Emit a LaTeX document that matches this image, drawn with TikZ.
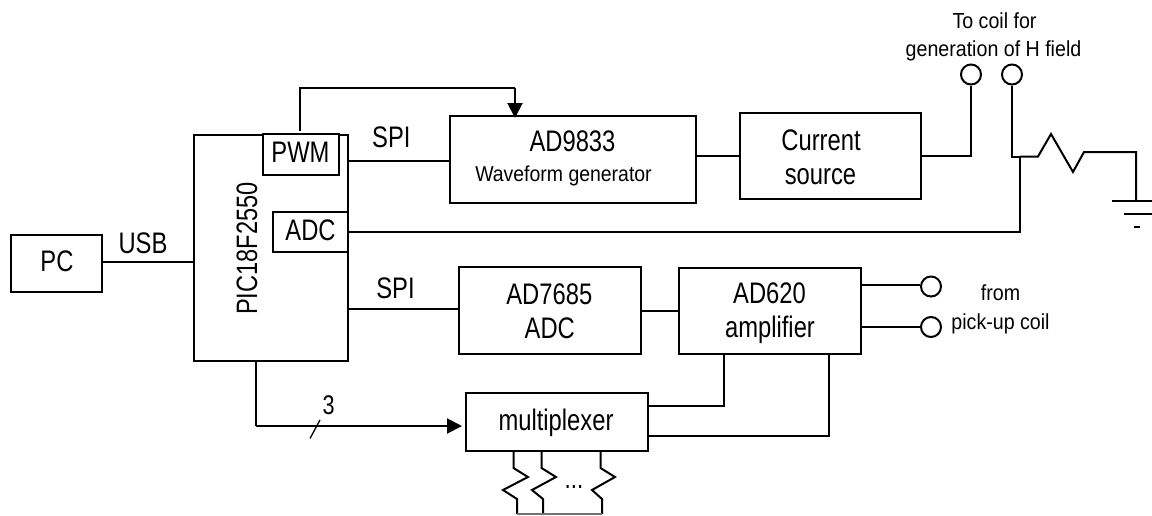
\documentclass[tikz,border=0pt]{standalone}
\usepackage{fontspec}
\setmainfont[FakeStretch=0.8]{Liberation Sans}
\newfontfamily\widefam[FakeStretch=0.9]{Liberation Sans}
\usetikzlibrary{arrows.meta,calc}
\newcommand{\fs}[2]{\fontsize{#1}{#2}\selectfont}
\tikzset{
  box/.style={draw=black,line width=2pt,fill=white,inner sep=0pt},
  wire/.style={draw=black,line width=2pt,line join=miter},
  arrowed/.style={wire,-{Triangle[length=15pt,width=15pt]}},
  term/.style={circle,draw=black,line width=2pt,fill=white,minimum size=20pt,inner sep=0pt},
  lab/.style={inner sep=0pt,anchor=base,font=\fs{29.7}{34}},
  note/.style={inner sep=0pt,anchor=base,font=\widefam\fs{21.8}{28}},
}
\begin{document}
\begin{tikzpicture}[x=1pt,y=-1pt]
\useasboundingbox (0,0) rectangle (1152,515);
% boxes
\node[box,minimum width=91pt,minimum height=57pt] (pc) at (56.5,263.5) {};
\node[box,minimum width=154pt,minimum height=226pt] (pic) at (271,248) {};
\node[box,minimum width=76pt,minimum height=41pt] (pwm) at (300.7,154.5) {};
\node[box,minimum width=75.5pt,minimum height=40.5pt] (adc) at (310.3,231.8) {};
\node[box,minimum width=246pt,minimum height=86.7pt] (wave) at (573,159.3) {};
\node[box,minimum width=181pt,minimum height=86pt] (cur) at (830,156) {};
\node[box,minimum width=181.7pt,minimum height=87pt] (dac) at (549.8,310.5) {};
\node[box,minimum width=181.7pt,minimum height=86.3pt] (amp) at (769.8,310.8) {};
\node[box,minimum width=182pt,minimum height=58pt] (mux) at (557,422) {};
% box texts
\node[lab] (pctext) at (57,271.7) {PC};
\node[lab] (pwmtext) at (300.5,162) {PWM};
\node[lab] (adctext) at (310.5,240) {ADC};
\node[lab,rotate=90,font=\fs{29.5}{33},anchor=base] (pictext) at (257,248.5) {PIC18F2550};
\node[lab] (wavea) at (572.5,151.7) {AD9833};
\node[note,font=\widefam\fs{21.6}{26}] (waveb) at (563.5,181) {Waveform generator};
\node[lab] (cura) at (821,150) {Current};
\node[lab] (curb) at (820.5,184.3) {source};
\node[lab] (daca) at (549.3,304) {AD7685};
\node[lab] (dacb) at (549.8,338) {ADC};
\node[lab] (ampa) at (769.5,303) {AD620};
\node[lab] (ampb) at (770,337.7) {amplifier};
\node[lab] (muxtext) at (556,430) {multiplexer};
% labels
\node[lab] (usb) at (143,253) {USB};
\node[lab] (spia) at (391.3,147.3) {SPI};
\node[lab] (spib) at (395.5,298) {SPI};
\node[lab,font=\fs{27}{30}] (three) at (328.7,414) {3};
\node[note] (toa) at (994.5,28.3) {To coil for};
\node[note] (tob) at (993.5,56.7) {generation of H field};
\node[note] (froma) at (1000.5,300.7) {from};
\node[note] (fromb) at (1000.5,329) {pick-up coil};
\node[inner sep=0pt,anchor=base,font=\fs{28}{30}] (dots) at (574,488) {...};
% terminals
\node[term] (t1) at (971,74.5) {};
\node[term] (t2) at (1012,74.5) {};
\node[term] (t3) at (931,286.5) {};
\node[term] (t4) at (931,327) {};
% named points
\coordinate (junc) at (1020,156.5);
\coordinate (gnd) at (1136,201);
\coordinate (fb) at (299.7,88.3);
\coordinate (fbend) at (515,118);
\coordinate (picb) at (256,361);
\coordinate (busy) at (256,426);
% connectors
\draw[wire] ($(pc.east)+(0,-1.8)$) -- ($(pc.east -| pic.west)+(0,-1.8)$);
\draw[wire] ($(pic.east |- wave.west)+(0,1.4)$) -- ($(wave.west)+(0,1.4)$);
\draw[wire] ($(wave.east)+(0,-3.6)$) -- ($(wave.east -| cur.west)+(0,-3.6)$);
\draw[wire] (cur.east) -- (t1.south |- cur.east) -- (t1.south);
\draw[wire] (t2.south) -- (1012,156.5) -- (junc);
\draw[wire] (junc) -- (1038,156.5) -- (1051,134) -- (1073,172) -- (1084,152) -- (1136,152) -- (gnd);
\draw[wire] (1112,201) -- (1152,201);
\draw[wire] (1124,214) -- (1152,214);
\draw[wire] (1134,226.5) -- (1140,226.5);
\draw[wire] (adc.east) -- (adc.east -| junc) -- (junc);
\draw[wire] (299.7,130.5) -- (fb) -- (fb -| fbend);
\draw[arrowed] (fb -| fbend) -- (fbend);
\draw[wire] ($(pic.east |- dac.west)+(0,-1.5)$) -- ($(dac.west)+(0,-1.5)$);
\draw[wire] (dac.east) -- (dac.east -| amp.west);
\draw[wire] ($(amp.east |- t3)+(0,-1.5)$) -- ($(t3.west)+(0,-1.5)$);
\draw[wire] (amp.east |- t4) -- (t4.west);
\draw[wire] (picb) -- (busy);
\draw[arrowed] (busy) -- (462,426);
\draw[wire,line width=1.3pt] (310,438.5) -- (320,420);
\draw[wire] (724,354) -- (724,405.7) -- (648,405.7);
\draw[wire] (828.7,354) -- (828.7,436) -- (648,436);
% resistors
\draw[wire] (513.5,451) -- (513.5,468) -- (528,477) -- (503,490) -- (517,499) -- (517,514);
\draw[wire] (541.5,451) -- (541.5,468) -- (556,477) -- (532,490) -- (543,499) -- (543,514);
\draw[wire] (600.5,450) -- (600.5,468) -- (615,477) -- (592,490) -- (602,499) -- (602,514);
\draw[draw=black!55,line width=1.2pt] (517,514) -- (602,514);
\end{tikzpicture}
\end{document}
